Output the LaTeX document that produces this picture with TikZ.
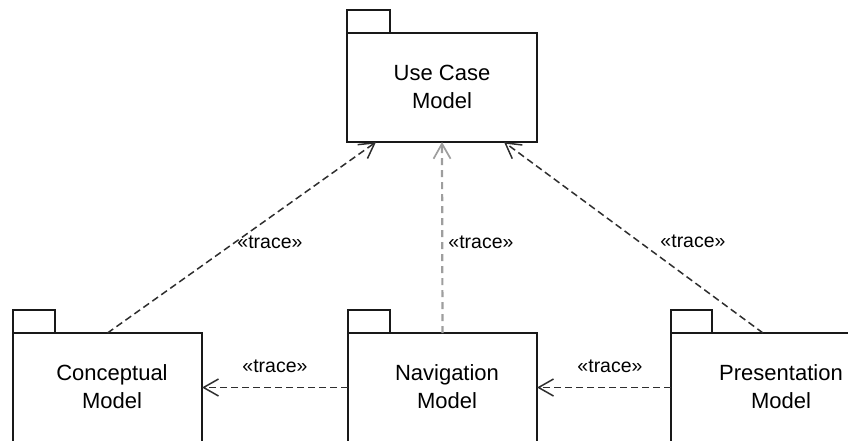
\documentclass[tikz,border=0pt]{standalone}
\usepackage{fontspec}
\setmainfont{Liberation Sans}
\usetikzlibrary{arrows.meta,calc}
\begin{document}
\begin{tikzpicture}[x=1pt,y=-1pt,
  pkg/.style={draw=black!90, line width=1.7pt, fill=white, outer sep=0pt, inner sep=0pt},
  pkgtext/.style={font=\fontsize{22}{28}\selectfont, align=center, text=black, inner sep=0pt},
  lbl/.style={font=\fontsize{19.5}{22}\selectfont, text=black, inner sep=0pt},
  dep/.style={dash pattern=on 7pt off 4pt, line width=1.5pt, draw=black!82,
    -{Straight Barb[length=15pt,width=17pt,line width=1.5pt]}},
  depgray/.style={dash pattern=on 7pt off 5pt, line width=2.2pt, draw=black!38,
    -{Straight Barb[length=15pt,width=17pt,line width=1.7pt]}}
]
\useasboundingbox (0,0) rectangle (848,440);
\clip (0,0) rectangle (848,440);

% Use Case Model
\node[pkg, minimum width=190pt, minimum height=109pt, anchor=north west] (uc) at (347,33) {};
\node[pkg, minimum width=43pt, minimum height=23pt, anchor=south west] (uctab) at (uc.north west) {};
\node[pkgtext] (uct) at (442,87) {Use Case\\Model};

% Conceptual Model
\node[pkg, minimum width=189pt, minimum height=109pt, anchor=north west] (cm) at (13,333) {};
\node[pkg, minimum width=42pt, minimum height=23pt, anchor=south west] (cmtab) at (cm.north west) {};
\node[pkgtext] (cmt) at (112,387) {Conceptual\\Model};

% Navigation Model
\node[pkg, minimum width=189pt, minimum height=109pt, anchor=north west] (nm) at (348,333) {};
\node[pkg, minimum width=42pt, minimum height=23pt, anchor=south west] (nmtab) at (nm.north west) {};
\node[pkgtext] (nmt) at (447,387) {Navigation\\Model};

% Presentation Model
\node[pkg, minimum width=210pt, minimum height=109pt, anchor=north west] (pm) at (671,333) {};
\node[pkg, minimum width=41pt, minimum height=23pt, anchor=south west] (pmtab) at (pm.north west) {};
\node[pkgtext] (pmt) at (781,387) {Presentation\\Model};

% dependencies
\draw[dep] (cm.north) -- ($(uc.south west)+(29,0)$);
\draw[depgray] (nm.north) -- (uc.south);
\draw[dep] ($(pm.north west)+(92,0)$) -- ($(uc.south east)+(-33,0)$);
\draw[dep] (nm.west) -- (cm.east);
\draw[dep] (pm.west) -- (nm.east);

% labels
\node[lbl] (l1) at (270,242) {«trace»};
\node[lbl] (l2) at (481,242) {«trace»};
\node[lbl] (l3) at (693,241) {«trace»};
\node[lbl] (l4) at (275,366) {«trace»};
\node[lbl] (l5) at (610,366) {«trace»};
\end{tikzpicture}
\end{document}
